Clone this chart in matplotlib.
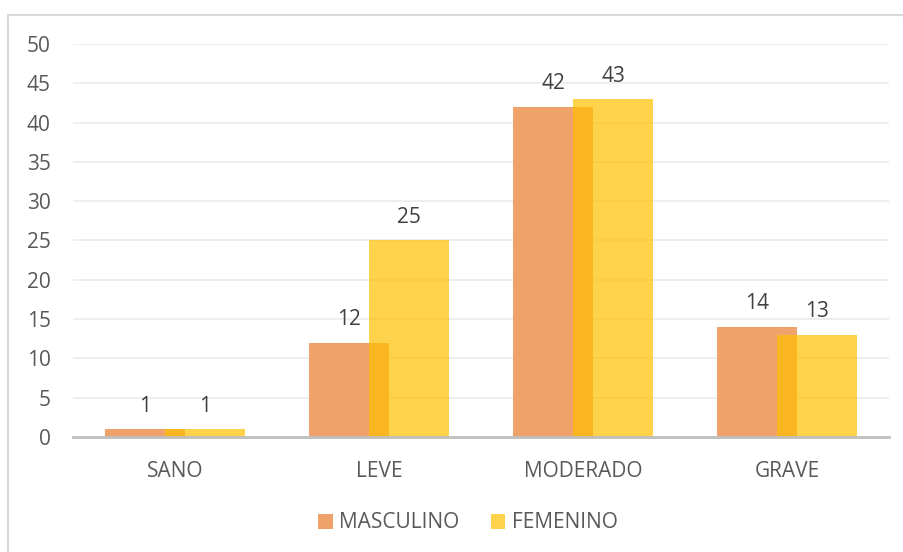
import matplotlib
matplotlib.use("Agg")
import matplotlib.pyplot as plt
from matplotlib.patches import Rectangle, Patch
import numpy as np

categories = ["SANO", "LEVE", "MODERADO", "GRAVE"]
masculino = [1, 12, 42, 14]
femenino = [1, 25, 43, 13]
series_names = ["MASCULINO", "FEMENINO"]
yticks = [0, 5, 10, 15, 20, 25, 30, 35, 40, 45, 50]

plt.rcParams['font.family'] = ['Open Sans', 'DejaVu Sans']

W, H = 904, 552
fig = plt.figure(figsize=(W / 100, H / 100), dpi=100)
fig.patch.set_facecolor("white")

# outer chart border (extends past right and bottom edges)
fig.patches.append(Rectangle((8 / W, -0.05), 1.1, (1 - 15 / H) + 0.05,
                             transform=fig.transFigure, fill=False,
                             edgecolor="#D9D9D9", linewidth=1.5, zorder=0))

ax = fig.add_axes([73 / W, 1 - 437 / H, (889 - 73) / W, (437 - 44) / H])
x = np.arange(len(categories))
bw = 0.392
off = 0.147
col_m = "#EFA36B"
col_f = "#FFBF00"

ax.bar(x - off, masculino, bw, color=col_m, zorder=2)
ax.bar(x + off, femenino, bw, color=col_f, alpha=0.7, zorder=3, linewidth=0)

for xi, v in zip(x - off, masculino):
    ax.annotate(str(v), (xi, v), xytext=(0, 9), textcoords="offset points",
                ha="center", va="bottom", fontsize=15, color="#404040")
for xi, v in zip(x + off, femenino):
    ax.annotate(str(v), (xi, v), xytext=(0, 9), textcoords="offset points",
                ha="center", va="bottom", fontsize=15, color="#404040")

ax.set_xlim(-0.5, len(categories) - 0.5)
ax.set_ylim(0, 50)
ax.set_yticks(yticks)
ax.set_yticklabels([str(t) for t in yticks])
ax.set_xticks(x)
ax.set_xticklabels(categories)
ax.tick_params(axis="y", length=0, pad=16, labelsize=15, labelcolor="#595959")
ax.tick_params(axis="x", length=0, pad=17, labelsize=15, labelcolor="#595959")
ax.grid(axis="y", color="#EBEBEB", linewidth=1.2, zorder=0)
ax.set_axisbelow(True)
for s in ["top", "right", "left"]:
    ax.spines[s].set_visible(False)
ax.spines["bottom"].set_color("#BFBFBF")
ax.spines["bottom"].set_linewidth(2)
ax.spines["bottom"].set_zorder(4)

handles = [Patch(facecolor=col_m), Patch(facecolor="#FFD24B")]
fig.legend(handles, series_names, loc="center", bbox_to_anchor=(468 / W, 1 - 523 / H),
           ncol=2, frameon=False, fontsize=15, labelcolor="#595959",
           handlelength=0.7, handleheight=0.7, handletextpad=0.3, columnspacing=1.5)

fig.savefig("out.png", dpi=100, facecolor="white")
